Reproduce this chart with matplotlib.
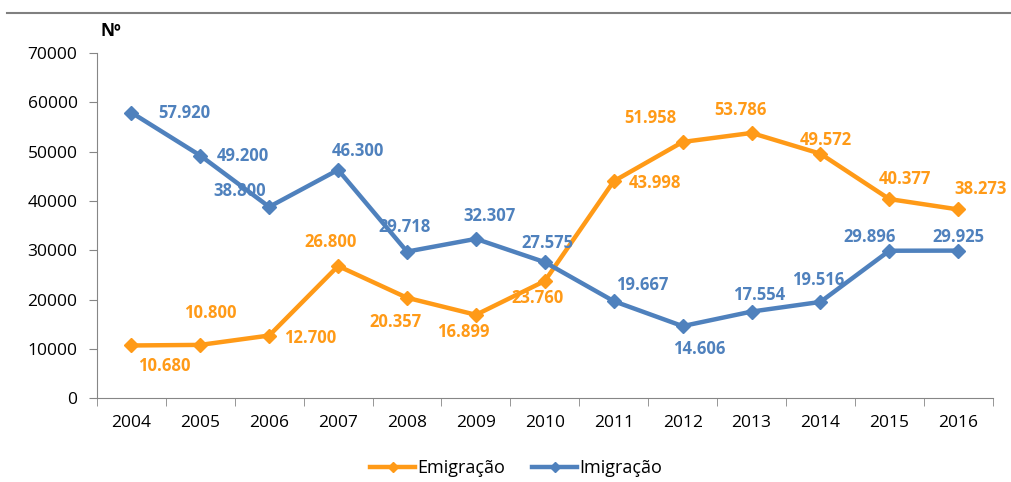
import matplotlib.pyplot as plt
from matplotlib.lines import Line2D

plt.rcParams['font.family'] = ['Open Sans', 'DejaVu Sans']

years = ['2004', '2005', '2006', '2007', '2008', '2009', '2010',
         '2011', '2012', '2013', '2014', '2015', '2016']
emigracao = [10680, 10800, 12700, 26800, 20357, 16899, 23760,
             43998, 51958, 53786, 49572, 40377, 38273]
imigracao = [57920, 49200, 38800, 46300, 29718, 32307, 27575,
             19667, 14606, 17554, 19516, 29896, 29925]

orange = '#FF9A17'
blue = '#4F81BD'

# label offsets in pixels (dx, dy), dy positive = up
emi_off = [(33, -21), (10, 32), (41, -2), (-8, 24), (-12, -24), (-13, -17), (-7, -17),
           (41, -2), (-32, 24), (-11, 23), (5, 14), (16, 20), (22, 20)]
imi_off = [(53, 0), (43, 0), (-30, 16), (20, 19), (-2, 25), (14, 23), (3, 19),
           (28, 16), (17, -23), (8, 17), (-2, 22), (-20, 14), (0, 14)]

fig = plt.figure(figsize=(10.11, 4.82), dpi=100)
ax = fig.add_axes([0.0959, 0.174, 0.886, 0.716])

x = list(range(len(years)))
ax.plot(x, emigracao, color=orange, lw=3.2, marker='D', ms=7, label='Emigração')
ax.plot(x, imigracao, color=blue, lw=3.2, marker='D', ms=7, label='Imigração')

def fmt(v):
    return f'{v:,}'.replace(',', '.')

for xi, v, (dx, dy) in zip(x, emigracao, emi_off):
    ax.annotate(fmt(v), (xi, v), xytext=(dx * 0.72, dy * 0.72), textcoords='offset points',
                ha='center', va='center', color=orange, fontsize=12, fontweight='bold')
for xi, v, (dx, dy) in zip(x, imigracao, imi_off):
    ax.annotate(fmt(v), (xi, v), xytext=(dx * 0.72, dy * 0.72), textcoords='offset points',
                ha='center', va='center', color=blue, fontsize=12, fontweight='bold')

ax.set_xlim(-0.5, len(years) - 0.5)
ax.set_ylim(0, 70000)
ax.set_yticks(range(0, 70001, 10000))
ax.set_xticks(x)
ax.set_xticklabels(years)
ax.set_xticks([i - 0.5 for i in range(len(years) + 1)], minor=True)
ax.tick_params(axis='x', which='major', length=0, pad=12, labelsize=12.5)
ax.tick_params(axis='x', which='minor', length=6, color='#868686')
ax.tick_params(axis='y', length=6, color='#868686', labelsize=12.5, pad=8)

for s in ['top', 'right']:
    ax.spines[s].set_visible(False)
for s in ['left', 'bottom']:
    ax.spines[s].set_color('#868686')

fig.text(0.099, 0.935, 'Nº', fontsize=12.5, fontweight='bold', ha='left', va='center')

fig.add_artist(Line2D([0.007, 1.0], [0.973, 0.973], color='#808080', lw=1.5))

ax.legend(loc='upper center', bbox_to_anchor=(0.468, -0.13), ncol=2, frameon=False,
          fontsize=13, handlelength=2.5, handletextpad=0.1, columnspacing=1.5,
          markerscale=0.8)

fig.savefig('out.png', dpi=100)
